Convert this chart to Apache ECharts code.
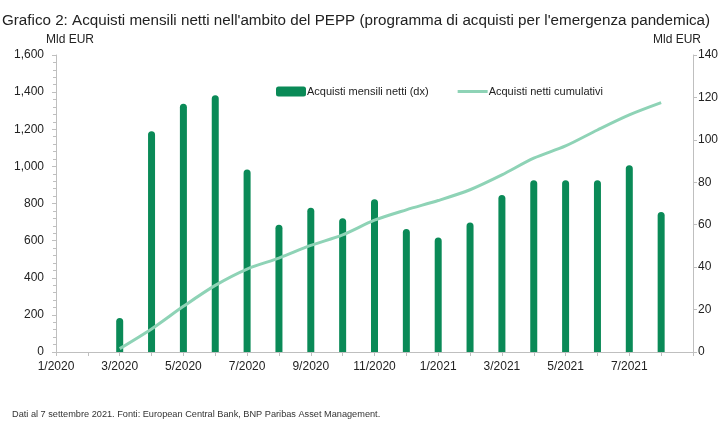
<!DOCTYPE html>
<html>
<head>
<meta charset="utf-8">
<script src="https://cdn.jsdelivr.net/npm/echarts@6/dist/echarts.min.js"></script>
<style>
html, body { margin: 0; padding: 0; background: #fff; }
#chart { width: 725px; height: 444px; }
</style>
</head>
<body>
<div id="chart"></div>
<script>
// mesi (asse x) e valori
var mesi = ['1/2020','2/2020','3/2020','4/2020','5/2020','6/2020','7/2020','8/2020','9/2020','10/2020','11/2020','12/2020',
	'1/2021','2/2021','3/2021','4/2021','5/2021','6/2021','7/2021','8/2021','9/2021'];
// acquisti mensili netti, Mld EUR (asse destro)
var acquistiMensili = ['-','-',16,104,117,121,86,60,68,63,72,58,54,61,74,81,81,81,88,66,'-'];
// acquisti netti cumulativi, Mld EUR (asse sinistro)
var acquistiCumulativi = ['-','-',18,124,246,359,447,506,574,631,710,766,816,874,954,1044,1110,1196,1277,1343,'-'];

var font = '"Liberation Sans", Arial, sans-serif';
var chart = echarts.init(document.getElementById('chart'));

var option = {
	animation: false,
	textStyle: { fontFamily: font },
	title: [{
		text: "Grafico 2: Acquisti mensili netti nell'ambito del PEPP (programma di acquisti per l'emergenza pandemica)",
		left: -3, top: 8,
		textStyle: { fontFamily: font, fontSize: 15.2, fontWeight: 'normal', color: '#222' }
	}, {
		text: 'Mld EUR',
		left: 65, top: 29, textAlign: 'center',
		textStyle: { fontFamily: font, fontSize: 12, fontWeight: 'normal', color: '#222' }
	}, {
		text: 'Mld EUR',
		left: 672, top: 29, textAlign: 'center',
		textStyle: { fontFamily: font, fontSize: 12, fontWeight: 'normal', color: '#222' }
	}, {
		text: 'Dati al 7 settembre 2021. Fonti: European Central Bank, BNP Paribas Asset Management.',
		left: 7, top: 405,
		textStyle: { fontFamily: font, fontSize: 9.2, fontWeight: 'normal', color: '#333' }
	}],
	legend: {
		left: 271, top: 81,
		itemWidth: 30, itemHeight: 10, itemGap: 29,
		textStyle: { fontFamily: font, fontSize: 11, color: '#222', padding: [0, 0, 0, -4] },
		data: [
			{ name: 'Acquisti mensili netti (dx)', icon: 'roundRect' },
			{ name: 'Acquisti netti cumulativi', icon: 'path://M0,0 H30 V3 H0 Z' }
		]
	},
	grid: { left: 56, right: 32, top: 55, bottom: 92 },
	xAxis: {
		type: 'category',
		data: mesi,
		boundaryGap: false,
		axisLine: { lineStyle: { color: '#bfbfbf' } },
		axisTick: { show: true, interval: 0, length: 4, lineStyle: { color: '#bfbfbf' } },
		axisLabel: {
			interval: function (i) { return i % 2 === 0 && i < 20; },
			fontFamily: font, fontSize: 12, color: '#222', margin: 9
		}
	},
	yAxis: [{
		type: 'value',
		min: 0, max: 1600, interval: 200,
		axisLine: { show: true, lineStyle: { color: '#bfbfbf' } },
		axisTick: { show: true, length: 4, lineStyle: { color: '#bfbfbf' } },
		minorTick: { show: true, splitNumber: 5, length: 3, lineStyle: { color: '#bfbfbf' } },
		splitLine: { show: false },
		axisLabel: {
			fontFamily: font, fontSize: 12, color: '#222', margin: 12,
			formatter: function (v) { return v.toLocaleString('en-US'); }
		}
	}, {
		type: 'value',
		min: 0, max: 140, interval: 20,
		axisLine: { show: true, lineStyle: { color: '#bfbfbf' } },
		axisTick: { show: true, length: 4, lineStyle: { color: '#bfbfbf' } },
		splitLine: { show: false },
		axisLabel: { fontFamily: font, fontSize: 12, color: '#222', margin: 5 }
	}],
	series: [{
		name: 'Acquisti mensili netti (dx)',
		type: 'bar',
		yAxisIndex: 1,
		data: acquistiMensili,
		barWidth: 7,
		itemStyle: { color: '#0a8a57', borderRadius: [3.5, 3.5, 0, 0] }
	}, {
		name: 'Acquisti netti cumulativi',
		type: 'line',
		yAxisIndex: 0,
		data: acquistiCumulativi,
		smooth: 0.3,
		symbol: 'none',
		lineStyle: { color: '#8ed3b6', width: 3 },
		itemStyle: { color: '#8ed3b6' }
	}]
};

chart.setOption(option);
</script>
</body>
</html>
